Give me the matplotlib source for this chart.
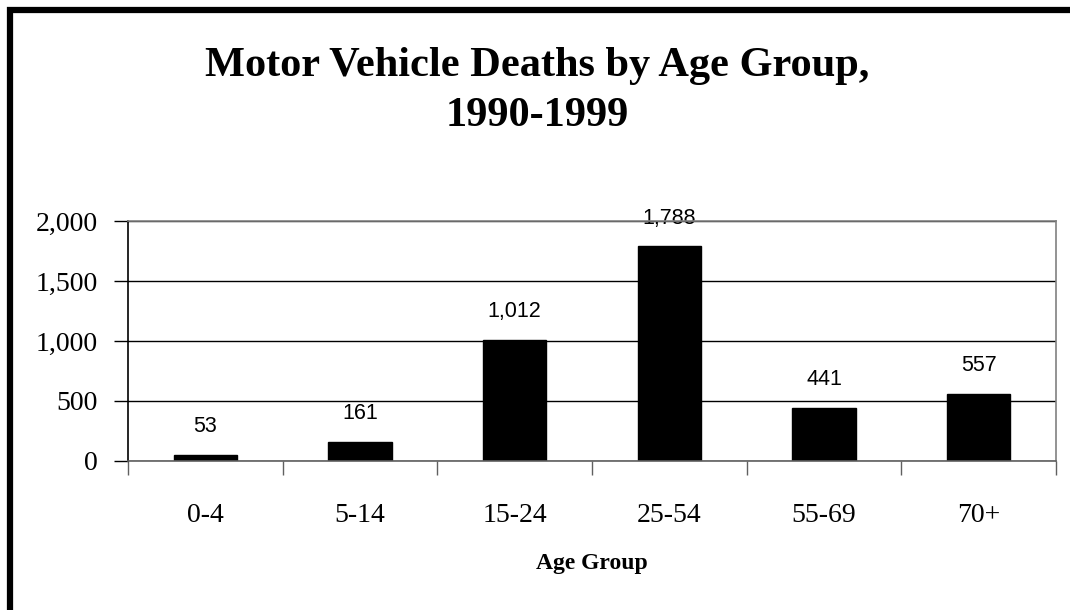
import matplotlib
matplotlib.use('Agg')
import matplotlib.pyplot as plt
from matplotlib.patches import Rectangle
from matplotlib.ticker import FuncFormatter

# Data
ageGroups = ['0-4', '5-14', '15-24', '25-54', '55-69', '70+']
deaths = [53, 161, 1012, 1788, 441, 557]
yTicks = [0, 500, 1000, 1500, 2000]

serif = 'Liberation Serif'
sans = 'Liberation Sans'

fig = plt.figure(figsize=(10.7, 6.1), dpi=100)
ax = fig.add_axes([0.1196, 0.2443, 0.8673, 0.3934])

x = range(len(ageGroups))
bars = ax.bar(x, deaths, width=0.41, color='black', edgecolor='black', zorder=3)

# value labels above the bars
for xi, v in zip(x, deaths):
    ax.text(xi, v + 235, f'{v:,}', ha='center', va='center',
            fontsize=15.5, family=sans, zorder=4)

ax.set_xlim(-0.5, len(ageGroups) - 0.5)
ax.set_ylim(0, 2000)
ax.set_yticks(yTicks)
ax.yaxis.set_major_formatter(FuncFormatter(lambda v, p: f'{int(v):,}'))
ax.set_xticks([i for i in x])
ax.set_xticklabels(ageGroups)
# category boundaries carry the tick marks
ax.set_xticks([i - 0.5 for i in range(len(ageGroups) + 1)], minor=True)
ax.tick_params(axis='x', which='major', length=0, pad=30, labelsize=20)
ax.tick_params(axis='x', which='minor', length=10, width=1, color='#606060', direction='out')
ax.tick_params(axis='y', length=10, width=1, direction='out', pad=12, labelsize=20)
for lbl in ax.get_xticklabels() + ax.get_yticklabels():
    lbl.set_family(serif)

ax.yaxis.grid(True, color='black', linewidth=1)
ax.set_axisbelow(True)

ax.spines['left'].set_color('black')
ax.spines['bottom'].set_color('#606060')
ax.spines['top'].set_color('#808080')
ax.spines['right'].set_color('#808080')
for s in ax.spines.values():
    s.set_linewidth(1.2)
    s.set_zorder(5)

ax.set_xlabel('Age Group', family=serif, fontsize=17, fontweight='bold', labelpad=18)

fig.text(0.502, 0.851, 'Motor Vehicle Deaths by Age Group,\n1990-1999', ha='center', va='center',
         family=serif, fontsize=30.5, fontweight='bold', linespacing=1.4)

# thick frame round the whole chart
fig.patches.append(Rectangle((10 / 1070, -0.2), 1.2, 1.2 - 10 / 610, transform=fig.transFigure,
                             fill=False, edgecolor='black', linewidth=4.5))

fig.savefig('out.png', dpi=100)
